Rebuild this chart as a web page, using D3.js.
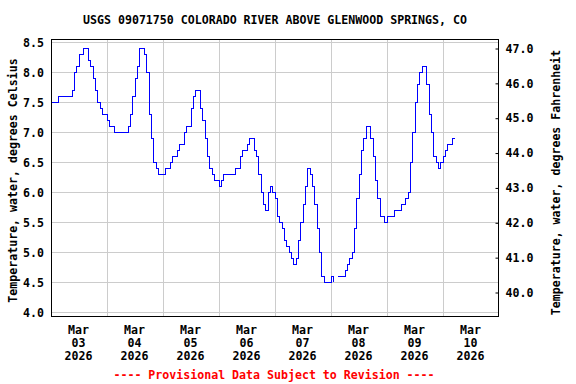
<!DOCTYPE html>
<html>
  <head>
    <meta charset="UTF-8">
    <script type="text/javascript" src="https://d3js.org/d3.v7.min.js"></script>
    <style type="text/css">
      body { margin: 0; background: white; }
      svg text {
        font-family: "DejaVu Sans Mono", monospace;
        font-weight: bold;
        font-size: 11.6px;
        fill: black;
      }
      .grid line { stroke: #cccccc; stroke-width: 1; shape-rendering: crispEdges; }
      .grid path { display: none; }
    </style>
  </head>
<body>
<script type="text/javascript">
var svgWidth = 576;
var svgHeight = 384;

// plot box (frame) in pixels
var box = {left: 51, right: 499, top: 39, bottom: 316};

var title = "USGS 09071750 COLORADO RIVER ABOVE GLENWOOD SPRINGS, CO";
var footnote = "---- Provisional Data Subject to Revision ----";
var leftLabel = "Temperature, water, degrees Celsius";
var rightLabel = "Temperature, water, degrees Fahrenheit";

// hourly readings starting Mar 03 2026 00:00 (null = missing)
var startTime = new Date(2026, 2, 3, 0, 0);
var tempC = [
  7.5, 7.5, 7.5, 7.6, 7.6, 7.6, 7.6, 7.6, 7.6, 7.7, 8.0, 8.1,
  8.3, 8.3, 8.4, 8.4, 8.2, 8.1, 7.9, 7.7, 7.5, 7.4, 7.3, 7.3,
  7.2, 7.1, 7.1, 7.0, 7.0, 7.0, 7.0, 7.0, 7.0, 7.1, 7.3, 7.6,
  7.9, 8.1, 8.4, 8.4, 8.3, 8.0, 7.3, 6.9, 6.5, 6.4, 6.3, 6.3,
  6.3, 6.4, 6.4, 6.5, 6.6, 6.6, 6.7, 6.8, 6.8, 7.0, 7.1, 7.1,
  7.4, 7.6, 7.7, 7.7, 7.4, 7.2, 6.9, 6.6, 6.4, 6.3, 6.2, 6.2,
  6.1, 6.2, 6.3, 6.3, 6.3, 6.3, 6.3, 6.4, 6.4, 6.6, 6.7, 6.7,
  6.8, 6.9, 6.9, 6.7, 6.6, 6.3, 6.0, 5.8, 5.7, 6.0, 6.1, 6.0,
  5.9, 5.6, 5.5, 5.4, 5.2, 5.1, 5.0, 4.9, 4.8, 4.9, 5.2, 5.5,
  5.8, 6.1, 6.4, 6.3, 6.1, 5.8, 5.4, 5.0, 4.6, 4.5, 4.5, 4.5,
  4.6, 4.5, null, 4.6, 4.6, 4.6, 4.7, 4.8, 4.9, 5.0, 5.4, 5.9,
  6.3, 6.7, 6.9, 7.1, 7.1, 6.9, 6.6, 6.2, 5.9, 5.6, 5.6, 5.5,
  5.6, 5.6, 5.6, 5.7, 5.7, 5.7, 5.8, 5.8, 5.9, 6.0, 6.5, 7.0,
  7.5, 7.8, 8.0, 8.1, 8.1, 7.8, 7.3, 7.0, 6.6, 6.5, 6.4, 6.5,
  6.6, 6.7, 6.8, 6.8, 6.9, 6.9
];

var celsiusTicks = [4.0, 4.5, 5.0, 5.5, 6.0, 6.5, 7.0, 7.5, 8.0, 8.5];
var fahrenheitTicks = [40, 41, 42, 43, 44, 45, 46, 47];
var dayLabels = ["03", "04", "05", "06", "07", "08", "09", "10"];
var monthLabel = "Mar";
var yearLabel = "2026";

var data = tempC.map(function(v, i) {
  return {time: d3.timeHour.offset(startTime, i), value: v};
});

var svg = d3.select("body").append("svg")
  .attr("width", svgWidth)
  .attr("height", svgHeight);

var endTime = d3.timeDay.offset(startTime, dayLabels.length);

var x = d3.scaleTime()
  .domain([startTime, endTime])
  .range([box.left, box.right]);

var yC = d3.scaleLinear()
  .domain([4.0, 8.5])
  .range([312.3, 42.3]);

var yF = d3.scaleLinear()
  .domain([40, 47])
  .range([292.5, 48.5]);

// gridlines
var dayBounds = d3.range(1, dayLabels.length).map(function(i) { return d3.timeDay.offset(startTime, i); });

svg.append("g")
  .attr("class", "grid")
  .attr("transform", "translate(0," + box.bottom + ")")
  .call(d3.axisBottom(x).tickValues(dayBounds).tickSize(-(box.bottom - box.top)).tickFormat(""));

svg.append("g")
  .attr("class", "grid")
  .attr("transform", "translate(" + box.left + ",0)")
  .call(d3.axisLeft(yC).tickValues(celsiusTicks).tickSize(-(box.right - box.left)).tickFormat(""));

// the data line
var line = d3.line()
  .defined(function(d) { return d.value !== null; })
  .x(function(d) { return x(d.time); })
  .y(function(d) { return yC(d.value); })
  .curve(d3.curveStepAfter);

svg.append("path")
  .datum(data)
  .attr("fill", "none")
  .attr("stroke", "#0000ff")
  .attr("stroke-width", 1)
  .attr("shape-rendering", "crispEdges")
  .attr("d", line);

// frame
svg.append("rect")
  .attr("x", box.left + 0.5)
  .attr("y", box.top + 0.5)
  .attr("width", box.right - box.left - 1)
  .attr("height", box.bottom - box.top - 0.5)
  .attr("fill", "none")
  .attr("stroke", "black")
  .attr("shape-rendering", "crispEdges");

// left axis
var gL = svg.append("g")
  .attr("transform", "translate(" + box.left + ",0)")
  .call(d3.axisLeft(yC).tickValues(celsiusTicks).tickSize(0).tickPadding(7).tickFormat(d3.format(".1f")));
gL.select(".domain").remove();

// right axis, small ticks pointing in
var gR = svg.append("g")
  .attr("transform", "translate(" + (box.right - 0.5) + ",0)")
  .call(d3.axisRight(yF).tickValues(fahrenheitTicks).tickSize(-3).tickPadding(7).tickFormat(d3.format(".1f")));
gR.select(".domain").remove();
gR.selectAll(".tick line").attr("stroke", "black");

// bottom axis, labels centred on each day
var noons = dayLabels.map(function(d, i) { return d3.timeHour.offset(d3.timeDay.offset(startTime, i), 12); });
var gX = svg.append("g")
  .attr("transform", "translate(-1," + box.bottom + ")")
  .call(d3.axisBottom(x).tickValues(noons).tickSize(0).tickFormat(""));
gX.select(".domain").remove();

gX.selectAll(".tick").each(function(d, i) {
  var t = d3.select(this);
  t.select("text").remove();
  [monthLabel, dayLabels[i], yearLabel].forEach(function(s, k) {
    t.append("text")
      .attr("y", 18 + k * 13)
      .attr("text-anchor", "middle")
      .text(s);
  });
});

// titles
svg.append("text")
  .attr("x", (box.left + box.right) / 2)
  .attr("y", 24)
  .attr("text-anchor", "middle")
  .text(title);

svg.append("text")
  .attr("transform", "translate(17," + ((box.top + box.bottom) / 2 + 3) + ") rotate(-90)")
  .attr("text-anchor", "middle")
  .text(leftLabel);

svg.append("text")
  .attr("transform", "translate(560," + ((box.top + box.bottom) / 2 + 5) + ") rotate(-90)")
  .attr("text-anchor", "middle")
  .text(rightLabel);

svg.append("text")
  .attr("x", 274)
  .attr("y", 379)
  .attr("text-anchor", "middle")
  .style("fill", "#ff0000")
  .text(footnote);
</script>
</body>
</html>
